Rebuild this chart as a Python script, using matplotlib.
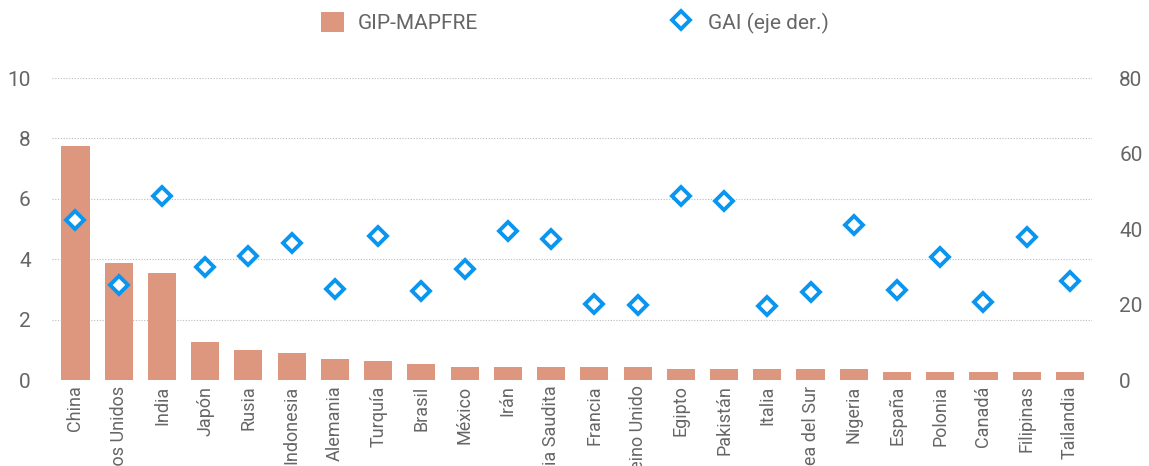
import matplotlib.pyplot as plt
from matplotlib.lines import Line2D
from matplotlib.patches import Patch

plt.rcParams['font.family'] = ['Roboto', 'DejaVu Sans']

paises = ["China", "Estados Unidos", "India", "Japón", "Rusia", "Indonesia",
          "Alemania", "Turquía", "Brasil", "México", "Irán", "Arabia Saudita",
          "Francia", "Reino Unido", "Egipto", "Pakistán", "Italia",
          "Corea del Sur", "Nigeria", "España", "Polonia", "Canadá",
          "Filipinas", "Tailandia"]
gip_mapfre = [7.76, 3.88, 3.53, 1.25, 0.98, 0.9, 0.71, 0.64, 0.53, 0.44, 0.44,
              0.44, 0.44, 0.44, 0.35, 0.35, 0.35, 0.35, 0.35, 0.26, 0.26,
              0.26, 0.26, 0.26]
gai = [42.5, 25.1, 48.7, 29.9, 32.9, 36.3, 24.0, 38.1, 23.7, 29.3, 39.4, 37.4,
       20.2, 20.0, 48.7, 47.5, 19.7, 23.3, 41.1, 23.8, 32.6, 20.7, 37.9, 26.2]

bar_color = "#DE977F"
gai_color = "#0A96F0"
txt_color = "#666666"

fig = plt.figure(figsize=(11.49, 4.66), dpi=100)
ax = fig.add_axes([0.045, 0.1845, 0.905, 0.648])
ax2 = ax.twinx()

x = list(range(len(paises)))
ax.bar(x, gip_mapfre, width=0.65, color=bar_color, zorder=2)
ax2.plot(x, gai, linestyle="none", marker="D", markersize=9,
         markerfacecolor="white", markeredgecolor=gai_color,
         markeredgewidth=2.8, zorder=3)

ax.set_xlim(-0.55, 23.5)
ax.set_ylim(0, 10)
ax2.set_ylim(0, 80)
ax.set_yticks([0, 2, 4, 6, 8, 10])
ax2.set_yticks([0, 20, 40, 60, 80])
ax.grid(axis="y", linestyle=(0, (1, 1.5)), color="#bbbbbb", linewidth=0.8, zorder=0)

ax.set_xticks(x)
ax.set_xticklabels(paises, rotation=90, fontsize=13, color=txt_color)
ax.tick_params(axis="x", length=0, pad=4)
ax.tick_params(axis="y", length=0, pad=15, labelsize=15, labelcolor=txt_color)
ax2.tick_params(axis="y", length=0, pad=20, labelsize=15, labelcolor=txt_color)

for a in (ax, ax2):
    for s in a.spines.values():
        s.set_visible(False)

handles = [Patch(facecolor=bar_color, edgecolor="none"),
           Line2D([], [], linestyle="none", marker="D", markersize=9,
                  markerfacecolor="white", markeredgecolor=gai_color,
                  markeredgewidth=2.8)]
fig.legend(handles, ["GIP-MAPFRE", "GAI (eje der.)"], loc="upper center",
           bbox_to_anchor=(0.5, 1.015), ncol=2, frameon=False, fontsize=15,
           labelcolor=txt_color, columnspacing=9.2, handlelength=1.1,
           handleheight=1.1, handletextpad=0.7)

fig.savefig("out.png", dpi=100)
